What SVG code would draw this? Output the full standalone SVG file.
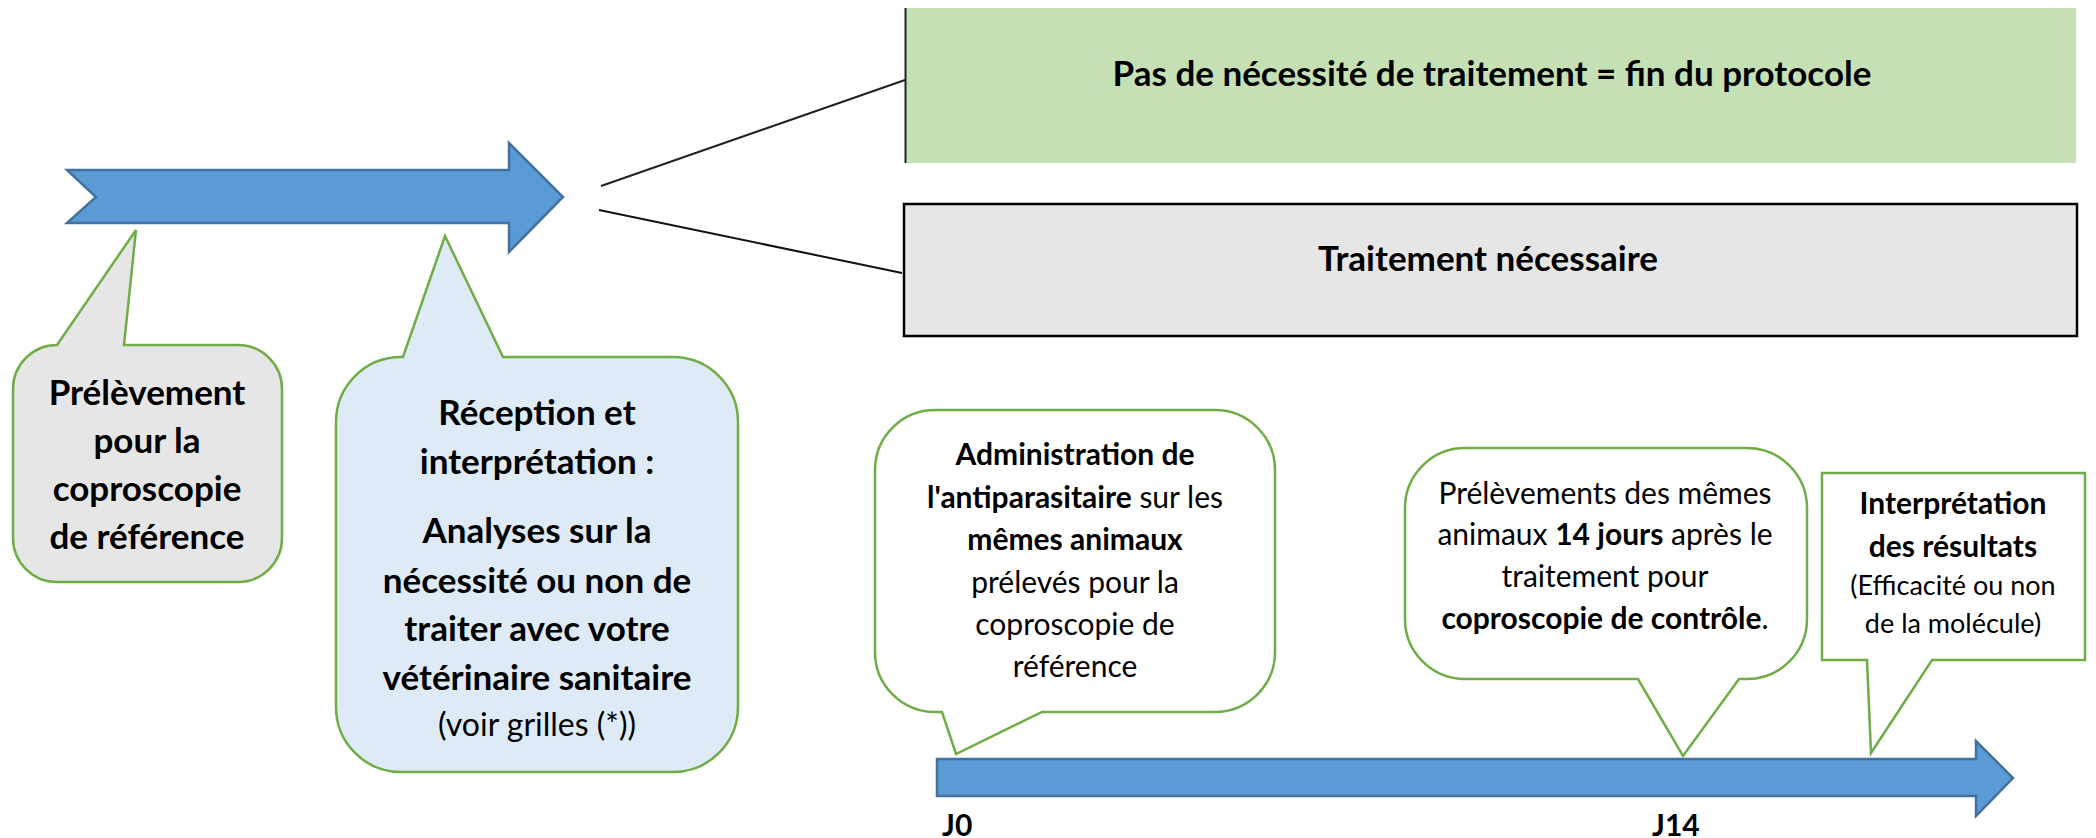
<svg xmlns="http://www.w3.org/2000/svg" width="2096" height="838" viewBox="0 0 2096 838">
<style>
text{font-family:Lato,"Liberation Sans",sans-serif;fill:#000;}
.c{text-anchor:middle;}
.b{font-weight:bold;}
.n{font-weight:normal;}
.big{font-size:35px;}
.med{font-size:30px;}
.sm{font-size:27px;}
.arrow{fill:#5B9BD5;stroke:#41719C;stroke-width:2.5;stroke-linejoin:miter;}
.call{stroke:#70AD47;stroke-width:2.5;stroke-linejoin:miter;}
</style>
<rect width="2096" height="838" fill="#FFFFFF"/>

<g id="connectors">
<path class="arrow" d="M67,170 L509,170 L509,143 L563,197 L509,252 L509,223 L67,223 L96,197 Z"/>
<path class="arrow" d="M937,759 L1976,759 L1976,741 L2013,778 L1976,816 L1976,796 L937,796 Z"/>
<line x1="601" y1="186" x2="905" y2="80" stroke="#1F2328" stroke-width="2"/>
<line x1="599" y1="210" x2="902" y2="273" stroke="#111" stroke-width="2"/>
</g>

<g id="node-no-treatment">
<rect x="905" y="8" width="1171" height="155" fill="#C5E0B4"/>
<line x1="905.5" y1="8" x2="905.5" y2="163" stroke="#1F2328" stroke-width="2"/>
<text class="c b big" x="1492" y="86">Pas de nécessité de traitement = fin du protocole</text>
</g>

<g id="node-treatment">
<rect x="904" y="204" width="1173" height="132" fill="#E7E6E6" stroke="#000" stroke-width="2.5"/>
<text class="c b big" x="1488" y="271">Traitement nécessaire</text>
</g>

<g id="node-prelevement">
<path class="call" fill="#E7E6E6" d="M57,345 L136,230 L124,345 L238,345 A44,44 0 0 1 282,389 L282,538 A44,44 0 0 1 238,582 L57,582 A44,44 0 0 1 13,538 L13,389 A44,44 0 0 1 57,345 Z"/>
<text class="c b big" x="147" y="405">Prélèvement</text>
<text class="c b big" x="147" y="453">pour la</text>
<text class="c b big" x="147" y="501">coproscopie</text>
<text class="c b big" x="147" y="549">de référence</text>
</g>

<g id="node-reception">
<path class="call" fill="#DEEBF7" d="M401,357 L403,357 L445,236 L503,357 L673,357 A65,65 0 0 1 738,422 L738,707 A65,65 0 0 1 673,772 L401,772 A65,65 0 0 1 336,707 L336,422 A65,65 0 0 1 401,357 Z"/>
<text class="c b big" x="537" y="425">Réception et</text>
<text class="c b big" x="537" y="474">interprétation :</text>
<text class="c b big" x="537" y="543">Analyses sur la</text>
<text class="c b big" x="537" y="593">nécessité ou non de</text>
<text class="c b big" x="537" y="641">traiter avec votre</text>
<text class="c b big" x="537" y="690">vétérinaire sanitaire</text>
<text class="c n" x="537" y="736" font-size="32">(voir grilles (*))</text>
</g>

<g id="node-administration">
<path class="call" fill="#FFFFFF" d="M935,410 L1215,410 A60,60 0 0 1 1275,470 L1275,652 A60,60 0 0 1 1215,712 L1042,712 L956,754 L942,712 L935,712 A60,60 0 0 1 875,652 L875,470 A60,60 0 0 1 935,410 Z"/>
<text class="c b med" x="1075" y="465">Administration de</text>
<text class="c med" x="1075" y="508"><tspan class="b">l'antiparasitaire</tspan><tspan class="n"> sur les</tspan></text>
<text class="c b med" x="1075" y="550">mêmes animaux</text>
<text class="c n med" x="1075" y="593">prélevés pour la</text>
<text class="c n med" x="1075" y="635">coproscopie de</text>
<text class="c n med" x="1075" y="677">référence</text>
</g>

<g id="node-controle">
<path class="call" fill="#FFFFFF" d="M1465,448 L1747,448 A60,60 0 0 1 1807,508 L1807,619 A60,60 0 0 1 1747,679 L1739,679 L1683,756 L1638,679 L1465,679 A60,60 0 0 1 1405,619 L1405,508 A60,60 0 0 1 1465,448 Z"/>
<text class="c n med" x="1605" y="504">Prélèvements des mêmes</text>
<text class="c med" x="1605" y="545"><tspan class="n">animaux </tspan><tspan class="b">14 jours</tspan><tspan class="n"> après le</tspan></text>
<text class="c n med" x="1605" y="587">traitement pour</text>
<text class="c med" x="1605" y="629"><tspan class="b">coproscopie de contrôle</tspan><tspan class="n">.</tspan></text>
</g>

<g id="node-interpretation">
<path class="call" fill="#FFFFFF" d="M1822,473 L2085,473 L2085,660 L1932,660 L1871,753 L1867,660 L1822,660 Z"/>
<text class="c b med" x="1953" y="514">Interprétation</text>
<text class="c b med" x="1953" y="557">des résultats</text>
<text class="c n sm" x="1953" y="595">(Efficacité ou non</text>
<text class="c n sm" x="1953" y="633">de la molécule)</text>
</g>

<g id="label-j0">
<text class="b" x="942" y="836" font-size="30">J0</text>
</g>
<g id="label-j14">
<text class="b" x="1652" y="836" font-size="30">J14</text>
</g>
</svg>
